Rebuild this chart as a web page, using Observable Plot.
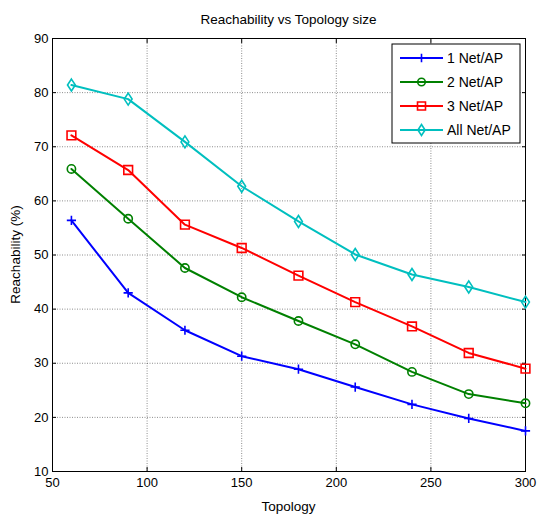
<!DOCTYPE html>
<html><head>
<meta charset="utf-8">
<script src="https://cdn.jsdelivr.net/npm/d3@7"></script>
<script src="https://cdn.jsdelivr.net/npm/@observablehq/plot@0.6"></script>
<style>body{margin:0;background:#fff}</style>
</head><body><div id="chart"></div>
<script>
const topology = [60, 90, 120, 150, 180, 210, 240, 270, 300];
const net1 = [56.4, 43.0, 36.1, 31.3, 28.9, 25.6, 22.4, 19.8, 17.5];
const net2 = [65.9, 56.7, 47.6, 42.2, 37.8, 33.5, 28.4, 24.3, 22.6];
const net3 = [72.1, 65.7, 55.6, 51.3, 46.2, 41.3, 36.8, 31.9, 29.0];
const netAll = [81.4, 78.8, 70.9, 62.7, 56.2, 50.1, 46.4, 44.1, 41.3];
const seriesNames = ["1 Net/AP", "2 Net/AP", "3 Net/AP", "All Net/AP"];
const seriesValues = [net1, net2, net3, netAll];
const colors = ["#0000ff", "#008000", "#ff0000", "#00bfbf"];
const xTicks = [50, 100, 150, 200, 250, 300];
const yTicks = [10, 20, 30, 40, 50, 60, 70, 80, 90];

const font = "'Liberation Sans', Arial, sans-serif";

// custom marker shapes
const symPlus = {draw(c, size) { const r = Math.sqrt(size / Math.PI); c.moveTo(-r, 0); c.lineTo(r, 0); c.moveTo(0, -r); c.lineTo(0, r); }};
const symCircle = {draw(c, size) { const r = Math.sqrt(size / Math.PI) * 0.9; c.moveTo(r, 0); c.arc(0, 0, r, 0, 2 * Math.PI); c.closePath(); }};
const symSquare = {draw(c, size) { const r = Math.sqrt(size / Math.PI) * 0.95; c.rect(-r, -r, 2 * r, 2 * r); }};
const symDiamond = {draw(c, size) { const r = Math.sqrt(size / Math.PI); const w = r * 0.85, h = r * 1.3; c.moveTo(0, -h); c.lineTo(w, 0); c.lineTo(0, h); c.lineTo(-w, 0); c.closePath(); }};
const symbols = [symPlus, symCircle, symSquare, symDiamond];

const rows = [];
seriesNames.forEach((s, i) => topology.forEach((t, j) => rows.push({series: s, idx: i, x: t, y: seriesValues[i][j]})));

const W = 538, H = 516;
const mL = 52, mR = 13, mT = 38, mB = 45;

const marks = [
  Plot.gridX(xTicks, {stroke: "#000", strokeOpacity: 0.45, strokeDasharray: "1,1.5"}),
  Plot.gridY(yTicks, {stroke: "#000", strokeOpacity: 0.45, strokeDasharray: "1,1.5"}),
  Plot.axisX(xTicks, {tickSize: -4, tickPadding: 10, fontSize: 13, fontFamily: font, label: null, fill: "#000"}),
  Plot.axisX(xTicks, {anchor: "top", tickSize: -4, text: null, label: null}),
  Plot.axisY(yTicks, {tickSize: -4, tickPadding: 8, fontSize: 13, fontFamily: font, label: null, fill: "#000"}),
  Plot.axisY(yTicks, {anchor: "right", tickSize: -4, text: null, label: null}),
  Plot.frame({stroke: "#000", strokeWidth: 1}),
];
seriesNames.forEach((s, i) => {
  const d = rows.filter(r => r.idx === i);
  marks.push(Plot.line(d, {x: "x", y: "y", stroke: colors[i], strokeWidth: 2}));
  marks.push(Plot.dot(d, {x: "x", y: "y", stroke: colors[i], strokeWidth: 1.6, r: 4.6, symbol: () => symbols[i], fill: "none"}));
});

const chart = Plot.plot({
  width: W, height: H,
  marginLeft: mL, marginRight: mR, marginTop: mT, marginBottom: mB,
  style: {fontFamily: font, background: "#fff", color: "#000"},
  x: {domain: [50, 300]},
  y: {domain: [10, 90]},
  symbol: {type: "identity"},
  marks
});

const svg = d3.select(chart);
// title
svg.append("text").attr("x", (mL + W - mR) / 2).attr("y", 24).attr("text-anchor", "middle")
  .attr("font-family", font).attr("font-size", 13.5).attr("fill", "#000").text("Reachability vs Topology size");
// x label
svg.append("text").attr("x", (mL + W - mR) / 2).attr("y", 511).attr("text-anchor", "middle")
  .attr("font-family", font).attr("font-size", 13.5).attr("fill", "#000").text("Topology");
// y label
svg.append("text").attr("transform", `translate(20,${(mT + H - mB) / 2}) rotate(-90)`).attr("text-anchor", "middle")
  .attr("font-family", font).attr("font-size", 13.5).attr("fill", "#000").text("Reachability (%)");

// legend
const lg = svg.append("g");
lg.append("rect").attr("x", 392).attr("y", 44).attr("width", 128).attr("height", 99)
  .attr("fill", "#fff").attr("stroke", "#000").attr("stroke-width", 1);
const ys = [58, 82, 106, 130];
seriesNames.forEach((s, i) => {
  const y = ys[i];
  lg.append("line").attr("x1", 400).attr("x2", 443).attr("y1", y).attr("y2", y)
    .attr("stroke", colors[i]).attr("stroke-width", 2);
  lg.append("path").attr("transform", `translate(421.5,${y})`)
    .attr("d", d3.symbol(symbols[i], Math.PI * 4.2 * 4.2)())
    .attr("fill", "none").attr("stroke", colors[i]).attr("stroke-width", 1.6);
  lg.append("text").attr("x", 447).attr("y", y).attr("dy", "0.35em").attr("text-anchor", "start")
    .attr("font-family", font).attr("font-size", 14).attr("fill", "#000").text(s);
});

document.getElementById("chart").appendChild(chart);
</script>
</body></html>
